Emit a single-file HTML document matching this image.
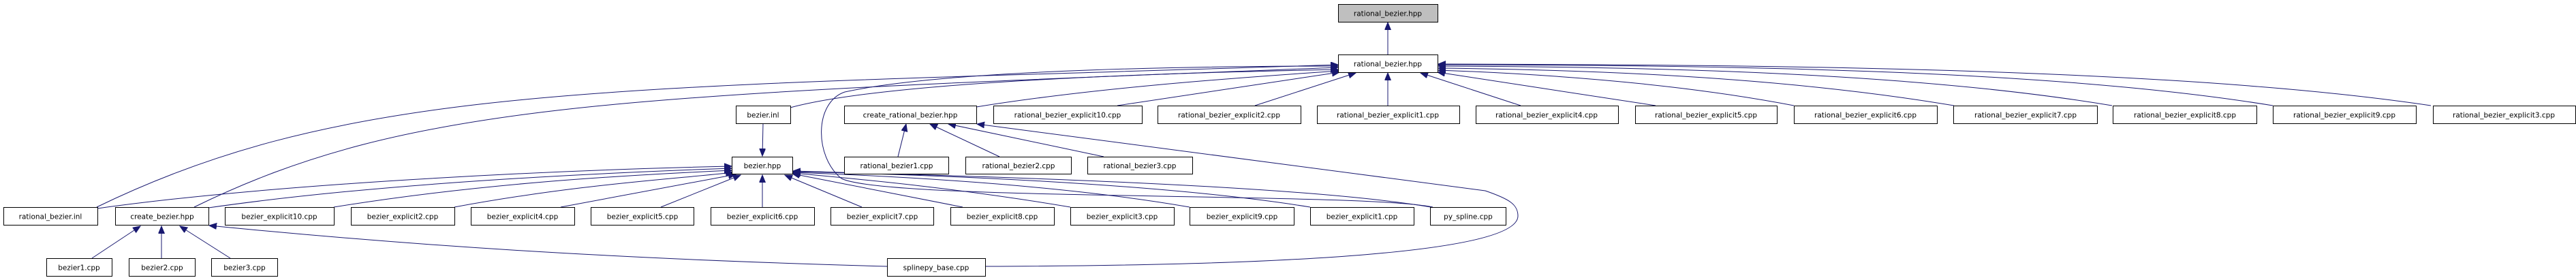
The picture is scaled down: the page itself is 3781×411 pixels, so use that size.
<!DOCTYPE html>
<html><head><meta charset="utf-8"><style>
html,body{margin:0;padding:0;background:#fff;}
svg{display:block;}
text{font-family:"DejaVu Sans","Liberation Sans",sans-serif;font-size:10.5px;fill:#000;}
.n{fill:#fff;stroke:#000;stroke-width:1;}
.g{fill:#bfbfbf;stroke:#000;stroke-width:1;}
.s{fill:none;stroke:#666;stroke-width:1;}
.e{fill:none;stroke:#191970;stroke-width:1;marker-end:url(#a);}
</style></head><body>
<svg width="3781" height="411" viewBox="0 0 3781 411" xmlns="http://www.w3.org/2000/svg">
<defs><marker id="a" markerUnits="userSpaceOnUse" markerWidth="12" markerHeight="10" refX="11" refY="4.5" orient="auto"><path d="M0,0 L11,4.5 L0,9 Z" fill="#191970" stroke="#191970"/></marker></defs>

<!-- edges -->
<path class="e" d="M2037,80 L2037,33"/>
<path class="e" d="M142,304 C520,120 900,130 1964,95"/>
<path class="e" d="M285,304 C600,150 900,140 1964,99"/>
<path class="e" d="M1160,158 C1300,120 1700,107 1964,102"/>
<path class="e" d="M1433,157 C1600,130 1800,115 1966,104"/>
<path class="e" d="M1640,155 L1966,106"/>
<path class="e" d="M1842,155 L1990,107"/>
<path class="e" d="M2037,155 L2037,107"/>
<path class="e" d="M2232,155 L2085,107"/>
<path class="e" d="M2430,155 L2110,106"/>
<path class="e" d="M2633,155 C2450,120 2250,108 2111,103"/>
<path class="e" d="M2868,155 C2600,110 2300,102 2111,100"/>
<path class="e" d="M3100,155 C2800,105 2400,98 2111,97"/>
<path class="e" d="M3336,155 C3000,100 2500,96 2111,95"/>
<path class="e" d="M3568,155 C3200,100 2600,95 2111,94"/>
<path class="e" d="M2103,304 C2000,282 1300,295 1235,262 C1195,230 1195,150 1240,135 C1400,100 1800,97 1964,97"/>

<path class="e" d="M1120,181 L1119,229"/>
<path class="e" d="M143,306 C400,270 800,250 1074,244"/>
<path class="e" d="M306,305 C550,270 850,255 1074,247"/>
<path class="e" d="M490,304 C700,270 900,258 1074,250"/>
<path class="e" d="M667,304 C850,270 1000,262 1076,253"/>
<path class="e" d="M823,304 L1080,256"/>
<path class="e" d="M970,304 L1087,257"/>
<path class="e" d="M1119,304 L1119,257"/>
<path class="e" d="M1265,304 L1152,257"/>
<path class="e" d="M1413,304 L1163,255"/>
<path class="e" d="M1571,304 C1400,275 1250,262 1164,254"/>
<path class="e" d="M1746,304 C1550,270 1300,258 1164,253"/>
<path class="e" d="M1923,304 C1700,268 1350,256 1164,252"/>
<path class="e" d="M2100,304 C1900,270 1400,258 1164,251"/>

<path class="e" d="M135,379 L206,332"/>
<path class="e" d="M237,379 L237,332"/>
<path class="e" d="M338,379 L264,332"/>
<path class="e" d="M1302,391 C900,380 600,360 307,331"/>

<path class="e" d="M1318,230 L1330,182"/>
<path class="e" d="M1467,230 L1365,182"/>
<path class="e" d="M1620,230 L1392,182"/>
<path class="e" d="M1446,391 C1900,390 2228,370 2228,317 C2228,300 2215,292 2180,280 L1434,182"/>

<!-- nodes -->
<g id="nodes">
<rect class="g" x="1964.5" y="6.5" width="146" height="26"/><text x="2037" y="23.5" text-anchor="middle">rational_bezier.hpp</text>
<rect class="n" x="1964.5" y="80.5" width="146" height="26"/><text x="2037" y="97.5" text-anchor="middle">rational_bezier.hpp</text>

<rect class="n" x="1080.5" y="155.5" width="80" height="26"/><text x="1120" y="172.5" text-anchor="middle">bezier.inl</text>
<rect class="n" x="1239.5" y="155.5" width="194" height="26"/><text x="1336" y="172.5" text-anchor="middle">create_rational_bezier.hpp</text>
<rect class="n" x="1458.5" y="155.5" width="218" height="26"/><text x="1567" y="172.5" text-anchor="middle">rational_bezier_explicit10.cpp</text>
<rect class="n" x="1699.5" y="155.5" width="210" height="26"/><text x="1804" y="172.5" text-anchor="middle">rational_bezier_explicit2.cpp</text>
<rect class="n" x="1933.5" y="155.5" width="209" height="26"/><text x="2037" y="172.5" text-anchor="middle">rational_bezier_explicit1.cpp</text>
<rect class="n" x="2166.5" y="155.5" width="209" height="26"/><text x="2270" y="172.5" text-anchor="middle">rational_bezier_explicit4.cpp</text>
<rect class="n" x="2400.5" y="155.5" width="208" height="26"/><text x="2504" y="172.5" text-anchor="middle">rational_bezier_explicit5.cpp</text>
<rect class="n" x="2633.5" y="155.5" width="210" height="26"/><text x="2738" y="172.5" text-anchor="middle">rational_bezier_explicit6.cpp</text>
<rect class="n" x="2867.5" y="155.5" width="211" height="26"/><text x="2973" y="172.5" text-anchor="middle">rational_bezier_explicit7.cpp</text>
<rect class="n" x="3101.5" y="155.5" width="211" height="26"/><text x="3207" y="172.5" text-anchor="middle">rational_bezier_explicit8.cpp</text>
<rect class="n" x="3336.5" y="155.5" width="210" height="26"/><text x="3441" y="172.5" text-anchor="middle">rational_bezier_explicit9.cpp</text>
<rect class="n" x="3571.5" y="155.5" width="209" height="26"/><text x="3675" y="172.5" text-anchor="middle">rational_bezier_explicit3.cpp</text>

<rect class="n" x="1074.5" y="230.5" width="89" height="25"/><text x="1119" y="247" text-anchor="middle">bezier.hpp</text>
<rect class="n" x="1239.5" y="230.5" width="153" height="25"/><text x="1316" y="247" text-anchor="middle">rational_bezier1.cpp</text>
<rect class="n" x="1417.5" y="230.5" width="155" height="25"/><text x="1495" y="247" text-anchor="middle">rational_bezier2.cpp</text>
<rect class="n" x="1596.5" y="230.5" width="154" height="25"/><text x="1673" y="247" text-anchor="middle">rational_bezier3.cpp</text>

<rect class="n" x="5.5" y="304.5" width="138" height="26"/><text x="74" y="321.5" text-anchor="middle">rational_bezier.inl</text>
<rect class="n" x="169.5" y="304.5" width="137" height="26"/><text x="238" y="321.5" text-anchor="middle">create_bezier.hpp</text>
<rect class="n" x="330.5" y="304.5" width="160" height="26"/><text x="410" y="321.5" text-anchor="middle">bezier_explicit10.cpp</text>
<rect class="n" x="515.5" y="304.5" width="152" height="26"/><text x="591" y="321.5" text-anchor="middle">bezier_explicit2.cpp</text>
<rect class="n" x="691.5" y="304.5" width="152" height="26"/><text x="767" y="321.5" text-anchor="middle">bezier_explicit4.cpp</text>
<rect class="n" x="867.5" y="304.5" width="151" height="26"/><text x="943" y="321.5" text-anchor="middle">bezier_explicit5.cpp</text>
<rect class="n" x="1043.5" y="304.5" width="152" height="26"/><text x="1119" y="321.5" text-anchor="middle">bezier_explicit6.cpp</text>
<rect class="n" x="1219.5" y="304.5" width="151" height="26"/><text x="1295" y="321.5" text-anchor="middle">bezier_explicit7.cpp</text>
<rect class="n" x="1395.5" y="304.5" width="152" height="26"/><text x="1471" y="321.5" text-anchor="middle">bezier_explicit8.cpp</text>
<rect class="n" x="1571.5" y="304.5" width="152" height="26"/><text x="1647" y="321.5" text-anchor="middle">bezier_explicit3.cpp</text>
<rect class="n" x="1746.5" y="304.5" width="153" height="26"/><text x="1823" y="321.5" text-anchor="middle">bezier_explicit9.cpp</text>
<rect class="n" x="1923.5" y="304.5" width="152" height="26"/><text x="1999" y="321.5" text-anchor="middle">bezier_explicit1.cpp</text>
<rect class="n" x="2099.5" y="304.5" width="111" height="26"/><text x="2155" y="321.5" text-anchor="middle">py_spline.cpp</text>

<rect class="n" x="68.5" y="379.5" width="96" height="26"/><text x="116" y="396.5" text-anchor="middle">bezier1.cpp</text>
<rect class="n" x="189.5" y="379.5" width="97" height="26"/><text x="238" y="396.5" text-anchor="middle">bezier2.cpp</text>
<rect class="n" x="310.5" y="379.5" width="97" height="26"/><text x="359" y="396.5" text-anchor="middle">bezier3.cpp</text>
<rect class="n" x="1302.5" y="379.5" width="144" height="26"/><text x="1374" y="396.5" text-anchor="middle">splinepy_base.cpp</text>
</g>
</svg>
</body></html>
